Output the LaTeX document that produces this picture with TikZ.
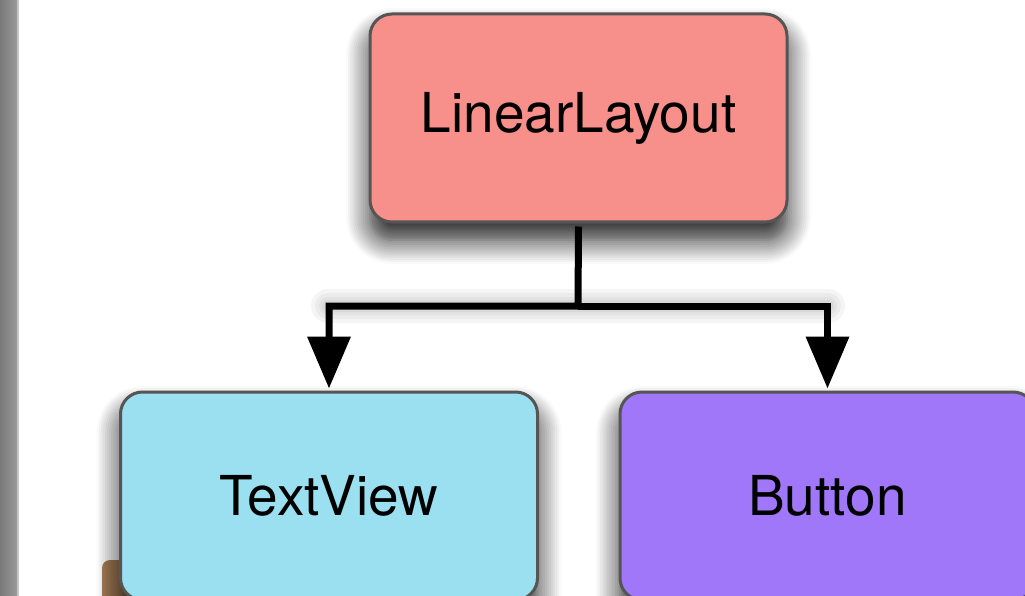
\documentclass[tikz,border=0pt]{standalone}
\usepackage{fontspec}
\setmainfont{TeX Gyre Heros}
\usetikzlibrary{arrows.meta, calc, positioning, shadows.blur}
\definecolor{layoutred}{RGB}{247,143,138}
\definecolor{viewblue}{RGB}{155,224,241}
\definecolor{buttonviolet}{RGB}{161,119,249}
\definecolor{boxborder}{RGB}{85,85,85}
\definecolor{barshade}{RGB}{128,128,128}
\definecolor{woodbrown}{RGB}{168,128,88}
\tikzset{
  viewbox/.style={draw=boxborder, line width=3pt, rounded corners=22pt,
                  minimum width=417pt, minimum height=208pt, inner sep=0pt,
                  font=\fontsize{55}{60}\selectfont,
                  blur shadow={shadow xshift=0pt, shadow yshift=-18pt,
                               shadow blur radius=24pt, shadow blur steps=12,
                               shadow opacity=90}},
  branch/.style={-{Triangle[length=52pt, width=42pt]}, line width=7pt},
  branchshadow/.style={black, opacity=0.04, line width=#1pt,
                       line cap=round, yshift=-12pt},
}
\begin{document}
\begin{tikzpicture}[x=1pt, y=-1pt]
  \useasboundingbox (0,0) rectangle (1025,596);
  \clip (0,0) rectangle (1025,596);

  % ---- frame edge and back object ----
  \shade[left color=barshade!95!black, right color=barshade!80!white]
    (0,0) rectangle (17,596);
  \fill[barshade!45!white] (17,0) rectangle (18.5,596);
  \fill[woodbrown, rounded corners=8pt] (102,560) rectangle (130,610);

  % ---- views ----
  \node[viewbox, fill=layoutred] (linear) at (578.5,118) {LinearLayout};
  \node[viewbox, fill=viewblue] (textview) at (329,496) {TextView};
  \node[viewbox, fill=buttonviolet, minimum width=415pt]
    (button) at (827.5,496) {Button};

  % ---- children ----
  \coordinate (split) at (578,306);
  \foreach \w in {34,26,18,12}
    \draw[branchshadow=\w] ($(split)+(-250,0)$) -- ($(split)+(250,0)$);
  \draw[branch] (linear.south) ++(0,3) -- (split) -| ($(textview.north)+(0,-2)$);
  \draw[branch] (split) -| ($(button.north)+(0,-2)$);
\end{tikzpicture}
\end{document}
